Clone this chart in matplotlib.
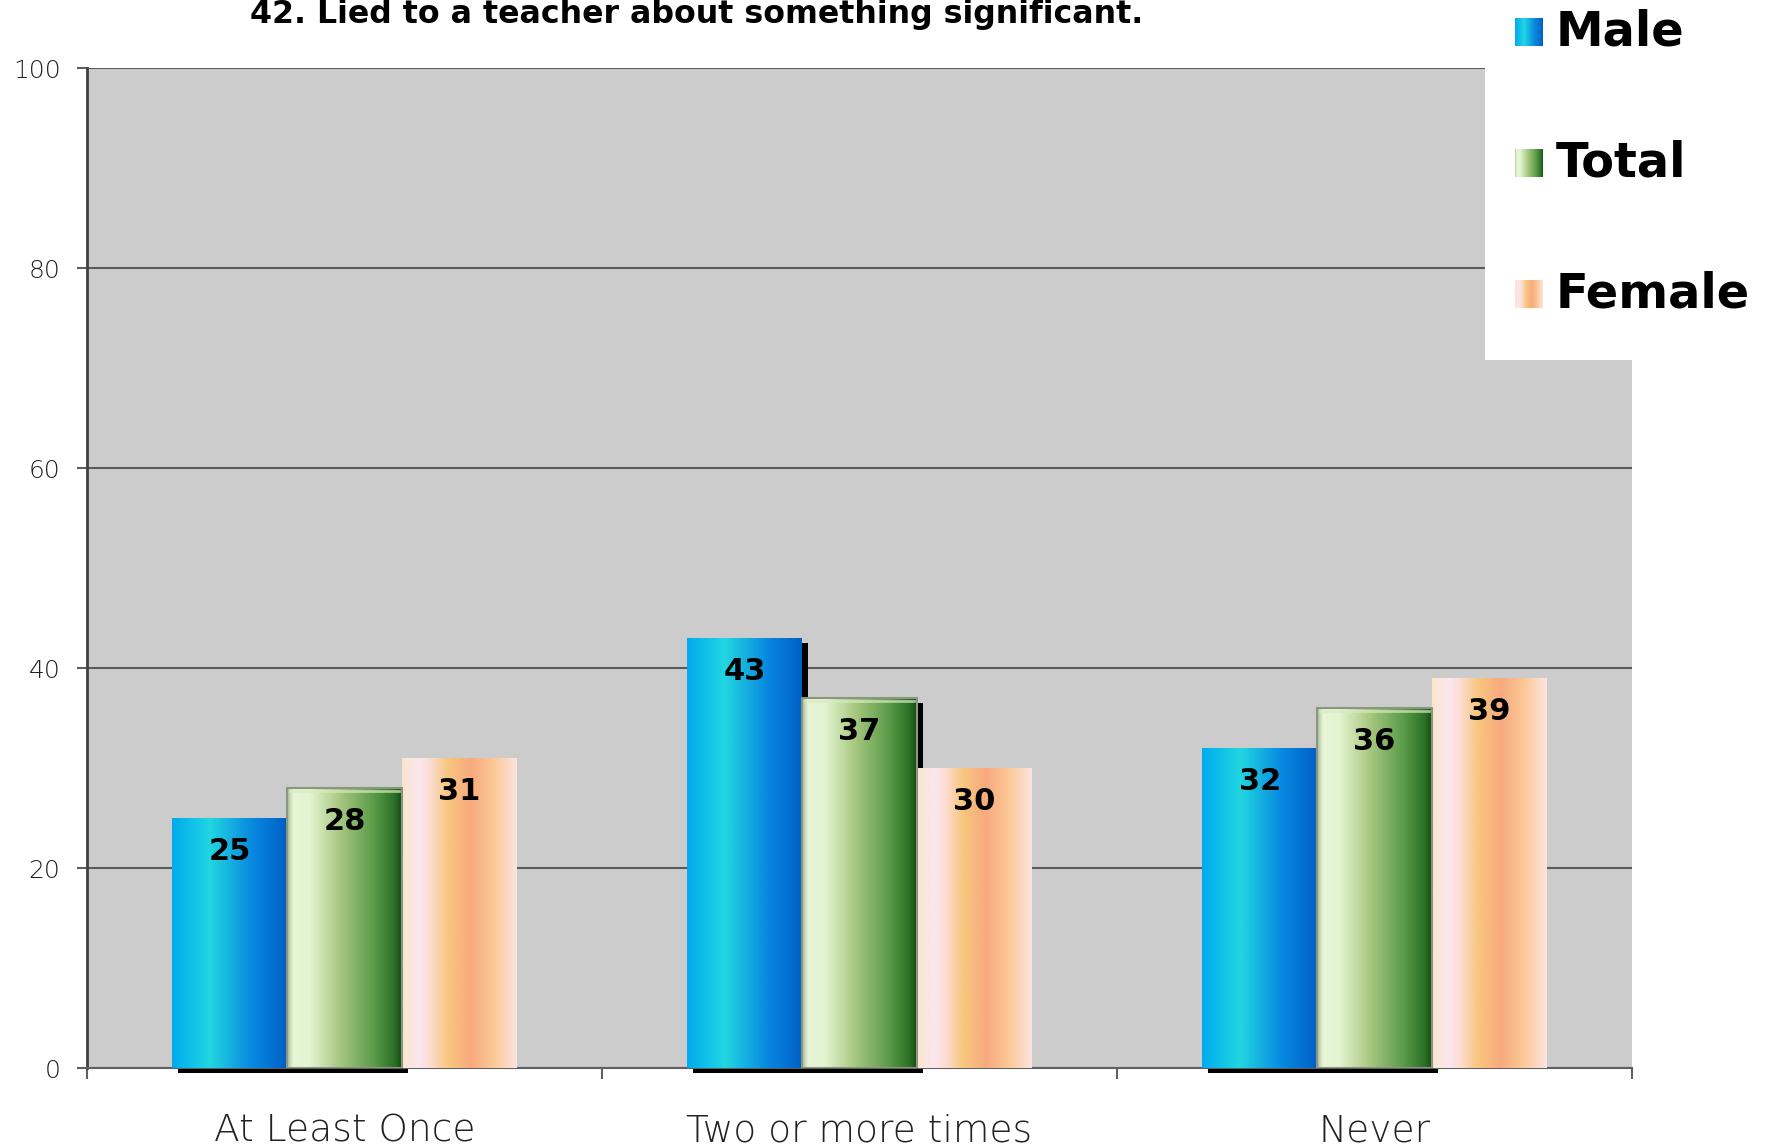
import numpy as np
import matplotlib
matplotlib.use("Agg")
import matplotlib.pyplot as plt
from matplotlib.colors import LinearSegmentedColormap

categories = ["At Least Once", "Two or more times", "Never"]
series_names = ["Male", "Total", "Female"]
male = [25, 43, 32]
total = [28, 37, 36]
female = [31, 30, 39]
title = "42. Lied to a teacher about something significant."
y_ticks = [0, 20, 40, 60, 80, 100]

W, H, DPI = 1768, 1147, 100

male_cmap = LinearSegmentedColormap.from_list(
    "male", [(0.0, "#00aaee"), (0.33, "#22d6e0"), (0.7, "#0888e0"), (1.0, "#0060c6")])
total_cmap = LinearSegmentedColormap.from_list(
    "total", [(0.0, "#a8b89a"), (0.05, "#e6f6d6"), (0.2, "#e2f4d0"), (0.45, "#aac982"),
              (0.75, "#5c9c4a"), (0.94, "#2a7026"), (1.0, "#164a14")])
female_cmap = LinearSegmentedColormap.from_list(
    "female", [(0.0, "#fae6cc"), (0.15, "#fce6f0"), (0.25, "#fbdcd0"), (0.4, "#f8c67e"),
               (0.6, "#f8aa7e"), (0.8, "#fbc896"), (1.0, "#fce4e0")])
cmaps = [male_cmap, total_cmap, female_cmap]

grad = np.linspace(0, 1, 256).reshape(1, -1)


def px_x(p):
    return p / W


def px_y(p):
    return 1 - p / H


fig = plt.figure(figsize=(W / DPI, H / DPI), dpi=DPI)
fig.patch.set_facecolor("white")
ax = fig.add_axes([px_x(87), px_y(1068), px_x(1632) - px_x(87), px_y(68) - px_y(1068)])
ax.set_facecolor("#cccccc")

x = np.arange(len(categories))
bw = 0.223
offsets = [-bw, 0, bw]
values = [male, total, female]

# drop shadows behind male and total bars
dx = 6 / 515
for i in range(2):
    ax.bar(x + offsets[i] + dx, values[i], bw, bottom=-0.5, color="black",
           zorder=2, clip_on=False)

for i, vals in enumerate(values):
    bars = ax.bar(x + offsets[i], vals, bw, facecolor="none",
                  edgecolor="#8a9680" if i == 1 else "none",
                  linewidth=1.5, zorder=4)
    for b, v in zip(bars, vals):
        x0 = b.get_x()
        im = ax.imshow(grad, extent=[x0, x0 + b.get_width(), 0, v], aspect="auto",
                       cmap=cmaps[i], zorder=3, interpolation="bilinear")
        im.set_clip_path(b)
        if i == 1:
            # light bevel along the top of the total bars
            ax.plot([x0 + 0.006, x0 + b.get_width() - 0.006], [v - 0.3, v - 0.3],
                    color="#d8ecc0", linewidth=2, alpha=0.7, zorder=4)
        ax.annotate(str(v), (x0 + b.get_width() / 2, v), xytext=(0, -34),
                    textcoords="offset pixels", ha="center", va="center",
                    fontsize=22, fontweight="bold", color="black", zorder=6)

ax.set_xlim(-0.5, 2.5)
ax.set_ylim(0, 100)
ax.set_yticks(y_ticks)
ax.set_yticklabels([str(t) for t in y_ticks])
ax.yaxis.grid(True, color="#5a5a5a", linewidth=1.5, zorder=1)
ax.set_axisbelow(True)

ax.set_xticks(x)
ax.set_xticklabels(categories)
ax.set_xticks([-0.5, 0.5, 1.5, 2.5], minor=True)
ax.tick_params(axis="x", which="major", length=0, pad=33, labelsize=27,
               labelcolor="#222222")
ax.tick_params(axis="x", which="minor", length=8, width=1.5, color="#606060",
               direction="out")
ax.tick_params(axis="y", length=7, width=1.5, color="#606060", pad=12,
               labelsize=18, labelcolor="#222222")
for lab in ax.get_xticklabels() + ax.get_yticklabels():
    lab.set_fontweight("light")

ax.spines["left"].set_color("#404040")
ax.spines["left"].set_linewidth(2)
ax.spines["bottom"].set_color("#606060")
ax.spines["bottom"].set_linewidth(1.5)
ax.spines["top"].set_visible(False)
ax.spines["right"].set_visible(False)

fig.text(px_x(697), px_y(15), title, ha="center", va="center",
         fontsize=22.8, fontweight="bold", color="black")

# legend box
box = plt.Rectangle((px_x(1485), px_y(360)), px_x(1633) - px_x(1485), 360 / H,
                    transform=fig.transFigure, facecolor="white", edgecolor="none",
                    zorder=5)
fig.patches.append(box)

legend_y = [32, 163, 294]
for name, cm, yc in zip(series_names, cmaps, legend_y):
    max_ = fig.add_axes([px_x(1515), px_y(yc + 14), 28 / W, 28 / H], zorder=6)
    max_.imshow(grad, aspect="auto", cmap=cm, interpolation="bilinear")
    max_.axis("off")
    fig.text(px_x(1556), px_y(yc), name, ha="left", va="center",
             fontsize=34.5, fontweight="bold", color="black", zorder=7)

fig.savefig("out.png", dpi=DPI)
